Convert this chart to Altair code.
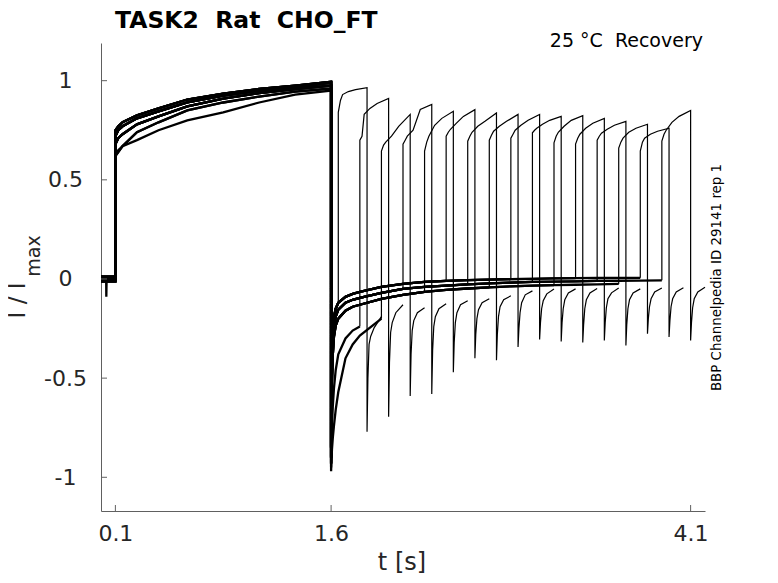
import altair as alt
import pandas as pd

# ---------------- data ----------------
sweep_ids = list(range(16))
test_start = [1.65, 1.8, 1.95, 2.1, 2.25, 2.4, 2.55, 2.7, 2.85, 3.0, 3.15, 3.3, 3.45, 3.6, 3.75, 3.9]
test_dur = 0.2

# baseline before the conditioning step
base_t = [0.0, 0.036, 0.037, 0.039, 0.1]
base_sets = {
    "hi": [0.012, 0.012, 0.012, 0.012, 0.012],
    "mid": [0.0, 0.0, 0.0, 0.0, 0.0],
    "lo": [-0.012, -0.012, -0.012, -0.012, -0.012],
    "dip": [0.0, 0.0, -0.09, 0.0, 0.0],
}

# conditioning pulse (0.1 s - 1.6 s)
act_t = [0.1, 0.12, 0.15, 0.25, 0.4, 0.6, 0.85, 1.1, 1.35, 1.6]
act_sets = {
    "hi": [0.75, 0.77, 0.79, 0.825, 0.86, 0.905, 0.935, 0.958, 0.975, 0.995],
    "m1": [0.72, 0.75, 0.77, 0.81, 0.845, 0.89, 0.925, 0.95, 0.968, 0.99],
    "m2": [0.68, 0.71, 0.73, 0.78, 0.82, 0.87, 0.91, 0.937, 0.957, 0.975],
    "lo": [0.62, 0.64, 0.67, 0.74, 0.79, 0.85, 0.89, 0.92, 0.945, 0.96],
    "lo2": [0.62, 0.65, 0.67, 0.70, 0.75, 0.80, 0.84, 0.89, 0.93, 0.95],
}

# recovery interval after the conditioning pulse
rec_t = [1.6, 1.602, 1.606, 1.612, 1.62, 1.632, 1.65, 1.7, 1.75, 1.8, 1.95, 2.1,
         2.25, 2.4, 2.55, 2.7, 2.85, 3.0, 3.15, 3.3, 3.45, 3.6, 3.75, 3.9]
rec_sets = {
    "a": [-0.85, -0.55, -0.36, -0.25, -0.19, -0.15, -0.12, -0.09, -0.075, -0.065, -0.04, -0.025,
          -0.015, -0.01, -0.006, -0.003, -0.001, 0.001, 0.003, 0.004, 0.005, 0.006, 0.006, 0.007],
    "b": [-0.9, -0.65, -0.45, -0.32, -0.24, -0.19, -0.155, -0.12, -0.105, -0.095, -0.07, -0.05,
          -0.04, -0.033, -0.027, -0.022, -0.018, -0.015, -0.013, -0.012, -0.01, -0.009, -0.008, -0.007],
    "c": [-0.93, -0.72, -0.52, -0.38, -0.29, -0.235, -0.2, -0.16, -0.14, -0.13, -0.1, -0.08,
          -0.065, -0.055, -0.048, -0.042, -0.037, -0.034, -0.031, -0.029, -0.027, -0.025, -0.024, -0.023],
    "s1": [-0.95, -0.85, -0.74, -0.64, -0.55, -0.46, -0.38, -0.3, -0.26, -0.24],
    "s2": [-0.97, -0.92, -0.86, -0.8, -0.74, -0.66, -0.57, -0.40, -0.33, -0.285, -0.2],
}

base_variant = ["hi", "mid", "lo", "dip", "mid", "hi", "lo", "mid", "hi", "lo", "mid", "hi", "lo", "mid", "hi", "lo"]
act_variant = ["hi", "m1", "m2", "lo", "m1", "hi", "m2", "m1", "lo2", "hi", "m1", "m2", "hi", "m1", "lo", "m2"]
rec_variant = ["a", "s1", "s2", "b", "c", "a", "b", "c", "a", "b", "c", "a", "b", "c", "a", "b"]

# test pulse (0.2 s) sampled at these offsets from its start
pulse_off = [0.0, 0.015, 0.03, 0.07, 0.12, 0.2]
pulse_vals = [
    [0.84, 0.90, 0.93, 0.945, 0.955, 0.965],
    [0.70, 0.72, 0.83, 0.86, 0.885, 0.91],
    [0.645, 0.675, 0.69, 0.72, 0.77, 0.83],
    [0.68, 0.70, 0.72, 0.75, 0.855, 0.88],
    [0.645, 0.69, 0.72, 0.775, 0.81, 0.846],
    [0.72, 0.74, 0.755, 0.785, 0.82, 0.854],
    [0.695, 0.72, 0.74, 0.77, 0.795, 0.837],
    [0.70, 0.725, 0.745, 0.77, 0.795, 0.83],
    [0.71, 0.73, 0.75, 0.775, 0.80, 0.83],
    [0.737, 0.75, 0.76, 0.78, 0.80, 0.82],
    [0.687, 0.72, 0.74, 0.77, 0.80, 0.824],
    [0.68, 0.71, 0.73, 0.76, 0.785, 0.81],
    [0.70, 0.72, 0.735, 0.755, 0.775, 0.795],
    [0.66, 0.69, 0.71, 0.74, 0.76, 0.78],
    [0.645, 0.69, 0.71, 0.73, 0.745, 0.76],
    [0.695, 0.73, 0.75, 0.79, 0.82, 0.85],
]

# tail current after the test pulse, offsets from its end
tail_off = [0.0, 0.006, 0.014, 0.025, 0.05, 0.1]
tail_vals = [
    [-0.77, -0.50, -0.33, -0.29, -0.245, -0.19],
    [-0.695, -0.42, -0.27, -0.22, -0.17, -0.13],
    [-0.59, -0.38, -0.26, -0.21, -0.17, -0.145],
    [-0.58, -0.36, -0.24, -0.19, -0.15, -0.125],
    [-0.47, -0.32, -0.22, -0.17, -0.13, -0.11],
    [-0.40, -0.28, -0.20, -0.155, -0.12, -0.10],
    [-0.41, -0.28, -0.19, -0.14, -0.105, -0.085],
    [-0.343, -0.25, -0.17, -0.12, -0.08, -0.06],
    [-0.305, -0.22, -0.15, -0.11, -0.075, -0.05],
    [-0.315, -0.22, -0.15, -0.105, -0.07, -0.05],
    [-0.32, -0.23, -0.15, -0.105, -0.07, -0.048],
    [-0.31, -0.22, -0.145, -0.10, -0.07, -0.046],
    [-0.335, -0.23, -0.15, -0.105, -0.07, -0.05],
    [-0.276, -0.20, -0.14, -0.10, -0.065, -0.045],
    [-0.293, -0.21, -0.14, -0.10, -0.065, -0.044],
    [-0.31, -0.22, -0.145, -0.10, -0.065, -0.042],
]

x_ticks = [0.1, 1.6, 4.1]
y_ticks = [-1, -0.5, 0, 0.5, 1]

title_text = "TASK2\u00a0 Rat\u00a0 CHO_FT"
cond_text = "25 \u00b0C\u00a0 Recovery"
side_text = "BBP Channelpedia ID 29141 rep 1"
ylab_main = "I / I"
ylab_sub = "max"
xlab = "t [s]"

# ---------------- build tables ----------------
rows_a, rows_b = [], []
for k in sweep_ids:
    o = 0
    for t, v in zip(base_t, base_sets[base_variant[k]]):
        rows_a.append(dict(sweep=k, o=o, t=t, v=v)); o += 1
    for t, v in zip(act_t, act_sets[act_variant[k]]):
        rows_a.append(dict(sweep=k, o=o, t=t, v=v)); o += 1
    rv = rec_sets[rec_variant[k]]
    n = rec_t.index(test_start[k]) + 1
    for t, v in zip(rec_t[:n], rv[:n]):
        rows_a.append(dict(sweep=k, o=o, t=t, v=v)); o += 1
    pre = rv[n - 1]
    ob = 0
    rows_b.append(dict(sweep=k, o=ob, t=test_start[k], v=pre)); ob += 1
    for off, v in zip(pulse_off, pulse_vals[k]):
        rows_b.append(dict(sweep=k, o=ob, t=test_start[k] + off, v=v)); ob += 1
    for off, v in zip(tail_off, tail_vals[k]):
        rows_b.append(dict(sweep=k, o=ob, t=test_start[k] + test_dur + off, v=v)); ob += 1

df_a = pd.DataFrame(rows_a)
df_b = pd.DataFrame(rows_b)
df_xt = pd.DataFrame({"v": x_ticks})
df_yt = pd.DataFrame({"v": y_ticks})

W, H = 604, 468
FONT = "DejaVu Sans"
AX = "#606060"
LAB = "#262626"

xs = alt.Scale(domain=[0, 4.2], nice=False, zero=False)
ys = alt.Scale(domain=[-1.17, 1.19], nice=False, zero=False)

x_axis = alt.Axis(values=x_ticks, title=None, grid=False, ticks=False, domainColor=AX,
                  labelFont=FONT, labelFontSize=22, labelColor=LAB, labelPadding=12,
                  labelExpr="'' + datum.value")
y_axis = alt.Axis(values=y_ticks, title=None, grid=False, ticks=False, domainColor=AX,
                  labelFont=FONT, labelFontSize=22, labelColor=LAB, labelPadding=36,
                  labelAlign="center", labelBaseline="middle",
                  labelExpr="'' + datum.value")

line_a = alt.Chart(df_a).mark_line(color="black", strokeWidth=2.3, interpolate="linear").encode(
    x=alt.X("t:Q", scale=xs, axis=x_axis),
    y=alt.Y("v:Q", scale=ys, axis=y_axis),
    detail="sweep:N",
    order="o:Q",
)
line_b = alt.Chart(df_b).mark_line(color="black", strokeWidth=1.2, interpolate="linear").encode(
    x=alt.X("t:Q", scale=xs),
    y=alt.Y("v:Q", scale=ys),
    detail="sweep:N",
    order="o:Q",
)

tick_x = alt.Chart(df_xt).mark_rule(color=AX, strokeWidth=1).encode(
    x=alt.X("v:Q", scale=xs), y=alt.value(H), y2=alt.value(H - 6))
tick_y = alt.Chart(df_yt).mark_rule(color=AX, strokeWidth=1).encode(
    y=alt.Y("v:Q", scale=ys), x=alt.value(0), x2=alt.value(6))


def label(txt, x, y, size, angle=0, align="center", baseline="middle", weight="normal", color=LAB):
    kw = dict(font=FONT, fontSize=size, align=align, baseline=baseline,
              fontWeight=weight, color=color)
    if angle:
        kw["angle"] = angle
    return alt.Chart(alt.Data(values=[{"label": txt}])).mark_text(**kw).encode(
        x=alt.value(x), y=alt.value(y), text="label:N")


t_title = label(title_text, 14, -15.5, 23.5, align="left", baseline="alphabetic", weight="bold", color="black")
t_cond = label(cond_text, 602, 4.3, 19, align="right", baseline="alphabetic", color="black")
t_side = label(side_text, 615.5, 234.5, 13.4, angle=270, color="black")
t_ymain = label(ylab_main, -83, 257.5, 23, angle=270)
t_ysub = label(ylab_sub, -67.5, 213, 19, angle=270)
t_x = label(xlab, 301, 520, 24)

chart = alt.layer(line_a, line_b, tick_x, tick_y, t_title, t_cond, t_side, t_ymain, t_ysub, t_x).properties(
    width=W, height=H,
    padding={"left": 93, "top": 35, "right": 60, "bottom": 64},
    autosize=alt.AutoSizeParams(type="none"),
).configure_view(strokeWidth=0)

chart.save("out.html", embed_options={"renderer": "svg", "actions": False})
